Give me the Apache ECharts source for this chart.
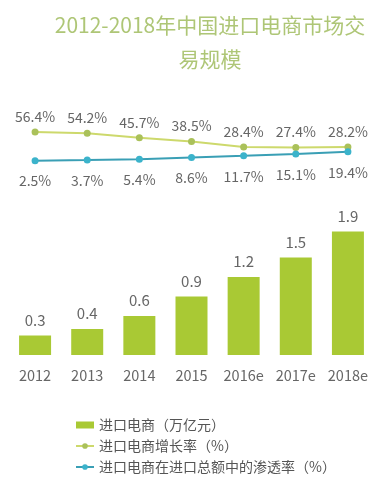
<!DOCTYPE html>
<html><head><meta charset="utf-8">
<script src="https://cdn.jsdelivr.net/npm/echarts@6/dist/echarts.min.js"></script>
<style>html,body{margin:0;padding:0;background:#fff}#c{width:387px;height:489px}</style>
</head><body><div id="c"></div>
<script>
const categories = ['2012','2013','2014','2015','2016e','2017e','2018e'];
const tradeScale = [0.3,0.4,0.6,0.9,1.2,1.5,1.9];
const growthRate = [56.4,54.2,45.7,38.5,28.4,27.4,28.2];
const penetration = [2.5,3.7,5.4,8.6,11.7,15.1,19.4];
const seriesNames = ['进口电商（万亿元）','进口电商增长率（%）','进口电商在进口总额中的渗透率（%）'];

const font = '"Noto Sans CJK SC","Noto Sans",sans-serif';
const chart = echarts.init(document.getElementById('c'));
chart.setOption({
  animation:false,
  textStyle:{fontFamily:font},
  title:{text:'2012-2018年中国进口电商市场交\n易规模',left:205,textAlign:'center',top:3,
    textStyle:{fontSize:21,fontWeight:'normal',color:'#aec676',lineHeight:34,fontFamily:font}},
  legend:{orient:'vertical',left:70,top:413,itemGap:7,itemWidth:18,itemHeight:7,
    textStyle:{fontSize:14,color:'#555',fontFamily:font},
    data:[{name:seriesNames[0],icon:'rect'},{name:seriesNames[1]},{name:seriesNames[2]}]},
  grid:[
    {left:9,width:365,top:109,height:53},
    {left:9,width:365,top:225,height:130}
  ],
  xAxis:[
    {gridIndex:0,type:'category',data:categories,show:false},
    {gridIndex:1,type:'category',data:categories,axisLine:{show:false},axisTick:{show:false},
      axisLabel:{interval:0,fontSize:14.5,color:'#666',margin:13,fontFamily:font}}
  ],
  yAxis:[
    {gridIndex:0,type:'value',min:0,max:100,show:false,splitLine:{show:false}},
    {gridIndex:1,type:'value',min:0,max:2,show:false,splitLine:{show:false}}
  ],
  series:[
    {name:seriesNames[0],type:'bar',xAxisIndex:1,yAxisIndex:1,data:tradeScale,barWidth:32,
      itemStyle:{color:'#a9c934'},
      label:{show:true,position:'top',distance:8,fontSize:15,color:'#666',fontFamily:font}},
    {name:seriesNames[1],type:'line',xAxisIndex:0,yAxisIndex:0,data:growthRate,
      symbol:'circle',symbolSize:7,lineStyle:{color:'#cdd96c',width:2},itemStyle:{color:'#aac15a'},
      label:{show:true,position:'top',distance:5,fontSize:14,color:'#666',formatter:p=>p.value+'%',fontFamily:font}},
    {name:seriesNames[2],type:'line',xAxisIndex:0,yAxisIndex:0,data:penetration,
      symbol:'circle',symbolSize:7,lineStyle:{color:'#3a9fb5',width:2},itemStyle:{color:'#3bb3cb'},
      label:{show:true,position:'bottom',distance:10,fontSize:14,color:'#666',formatter:p=>p.value+'%',fontFamily:font}}
  ]
});
</script></body></html>
